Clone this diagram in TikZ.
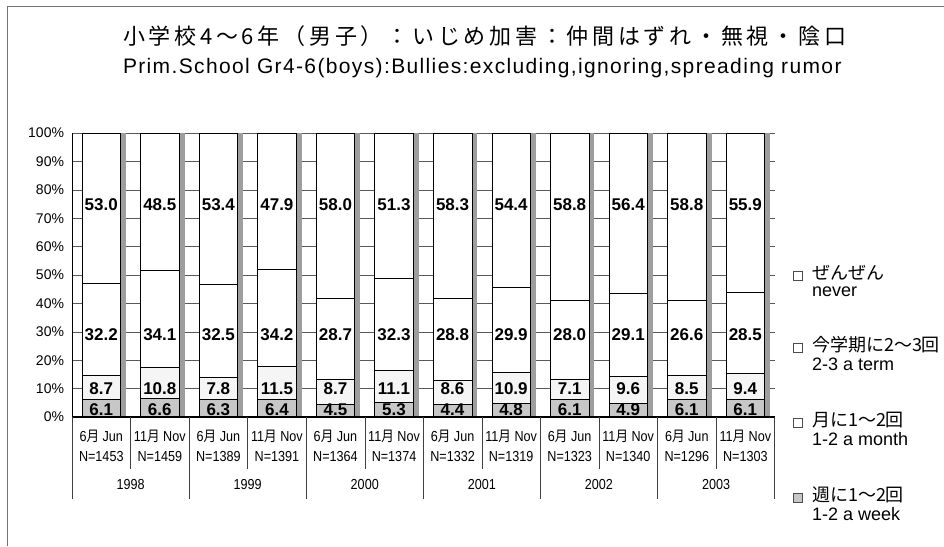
\documentclass[tikz,border=0pt]{standalone}
\usepackage{fontspec}
\setmainfont{Liberation Sans}
\newfontfamily\cjk{Noto Sans CJK JP}
\newfontfamily\titlecjk[LetterSpace=17]{Noto Sans CJK JP}
\newfontfamily\titlelat[LetterSpace=6.5]{Liberation Sans}
\newcommand\tsuki{{\cjk 月}}
\definecolor{weekc}{gray}{0.78}
\definecolor{monthc}{gray}{0.96}
\definecolor{shadec}{gray}{0.62}
\tikzset{
  x=1pt, y=-1pt,
  every node/.style={inner sep=0pt, outer sep=0pt},
  grid/.style={draw=black!65, line width=0.5pt},
  barline/.style={draw=black, line width=0.6pt},
  val/.style={font=\fontsize{17}{20}\selectfont\bfseries},
  ytick/.style={anchor=east, font=\fontsize{14}{16}\selectfont},
  xlab/.style={font=\fontsize{14.5}{17}\selectfont, xscale=0.87, transform shape},
  divider/.style={draw=black!75, line width=0.5pt},
  leg/.style={anchor=west, font=\fontsize{18}{21}\selectfont},
  frame/.style={draw=black!55, line width=0.6pt}
}
\begin{document}
\begin{tikzpicture}
\useasboundingbox (0,0) rectangle (944,546);
\fill[white] (0,0) rectangle (944,546);
% frame
\draw[frame] (7,546) -- (7,6) -- (944,6);
% title
\node[anchor=base west] (t1) at (123,44) {\fontsize{22}{26}\titlecjk 小学校4～6年（男子）：いじめ加害：仲間はずれ・無視・陰口};
\node[anchor=base west] (t2) at (123,73.3) {\fontsize{21}{25}\titlelat Prim.School Gr4-6(boys):Bullies:excluding,ignoring,spreading rumor};
% gridlines
\foreach \p in {10,20,...,100}{
  \draw[grid] (72,{417-2.84*\p}) -- (775,{417-2.84*\p});
}
% y labels
\foreach \p in {0,10,...,100}{
  \node[ytick] (yl\p) at (64,{417-2.84*\p}) {\p\%};
}
% bars
\foreach \w/\m/\t/\n [count=\i from 0] in {
  6.1/8.7/32.2/53.0, 6.6/10.8/34.1/48.5, 6.3/7.8/32.5/53.4, 6.4/11.5/34.2/47.9,
  4.5/8.7/28.7/58.0, 5.3/11.1/32.3/51.3, 4.4/8.6/28.8/58.3, 4.8/10.9/29.9/54.4,
  6.1/7.1/28.0/58.8, 4.9/9.6/29.1/56.4, 6.1/8.5/26.6/58.8, 6.1/9.4/28.5/55.9}{
  \pgfmathsetmacro\xl{82+58.55*\i}
  \pgfmathsetmacro\ya{417-2.84*\w}
  \pgfmathsetmacro\yb{417-2.84*(\w+\m)}
  \pgfmathsetmacro\yc{417-2.84*(\w+\m+\t)}
  \fill[shadec] (\xl+38.5,133) rectangle (\xl+44,417);
  \draw[barline, fill=white] (\xl,\yc) rectangle (\xl+38.5,133);
  \draw[barline, fill=white] (\xl,\yb) rectangle (\xl+38.5,\yc);
  \draw[barline, fill=monthc] (\xl,\ya) rectangle (\xl+38.5,\yb);
  \draw[barline, fill=weekc] (\xl,417) rectangle (\xl+38.5,\ya);
  \node[val] (vn\i) at (\xl+19.25,205) {\n};
  \node[val] (vt\i) at (\xl+19.25,335) {\t};
  \node[val] (vm\i) at (\xl+19.25,389) {\m};
  \node[val] (vw\i) at (\xl+19.25,409.5) {\w};
}
% axes
\draw[black, line width=0.7pt] (72,133) -- (72,417);
\draw[black, line width=1.1pt] (72,417) -- (775,417);
% dividers
\foreach \i in {0,...,12}{
  \pgfmathsetmacro\xd{72+58.55*\i}
  \ifodd\i
    \draw[divider] (\xd,417) -- (\xd,469);
  \else
    \draw[divider] (\xd,417) -- (\xd,499);
  \fi
}
% month labels
\foreach \nn [count=\i from 0] in {1453,1459,1389,1391,1364,1374,1332,1319,1323,1340,1296,1303}{
  \pgfmathsetmacro\xc{72+58.55*\i+29.27}
  \ifodd\i
    \node[xlab] (mo\i) at (\xc,436) {11\tsuki\ Nov};
  \else
    \node[xlab] (mo\i) at (\xc,436) {6\tsuki\ Jun};
  \fi
  \node[xlab] (nn\i) at (\xc,457) {N=\nn};
}
% year labels
\foreach \yr [count=\k from 0] in {1998,1999,2000,2001,2002,2003}{
  \node[xlab] (yr\yr) at ({72+117.1*\k+58.55},485) {\yr};
}
% legend
\foreach \jp/\en/\yy/\col [count=\k] in {ぜんぜん/never/273/white, 今学期に2～3回/2-3 a term/345/white, 月に1～2回/1-2 a month/420/white, 週に1～2回/1-2 a week/495/weekc}{
  \draw[black!70, line width=0.5pt, fill=\col] (793,\yy-2) rectangle (802,\yy+7);
  \node[leg] (lj\k) at (812,\yy) {\cjk \jp};
  \node[leg] (le\k) at (812,\yy+19) {\en};
}
\end{tikzpicture}
\end{document}
